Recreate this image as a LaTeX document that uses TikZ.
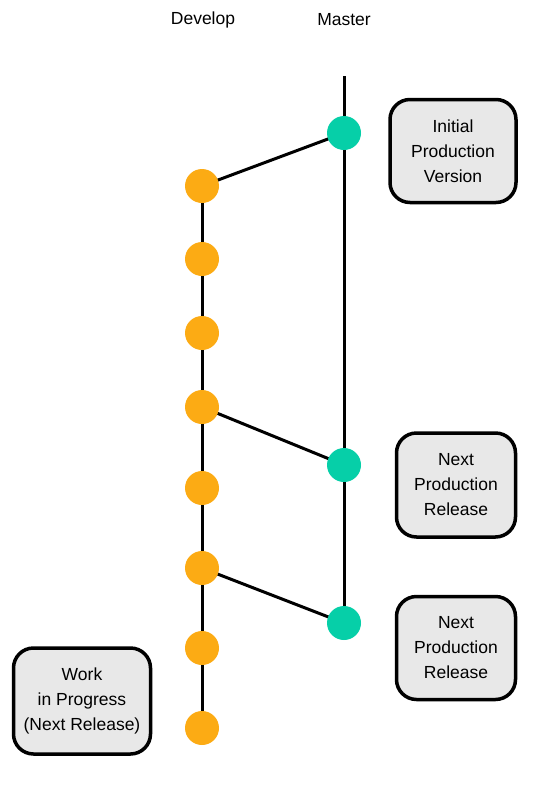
\documentclass[tikz,border=0pt]{standalone}
\usepackage{fontspec}
\setmainfont{Liberation Sans}
\usetikzlibrary{backgrounds, positioning}
\definecolor{devorange}{HTML}{FCAB14}
\definecolor{mastgreen}{HTML}{06CFA8}
\definecolor{notegray}{HTML}{E8E8E8}

\begin{document}
\begin{tikzpicture}[x=1pt, y=-1pt,
  font=\fontsize{17.5}{25}\selectfont,
  commit/.style={circle, minimum size=34pt, inner sep=0pt},
  dev/.style={commit, fill=devorange},
  mas/.style={commit, fill=mastgreen},
  note/.style={draw, line width=3.5pt, fill=notegray, rounded corners=20pt,
               align=center, inner sep=0pt},
  branch/.style={line width=3pt}]
\useasboundingbox (0,0) rectangle (534,804);
%
\node (devlab) at (203,20) {Develop};
\node (maslab) at (344,20) {Master};
%
\coordinate (mtop) at (344,76);
\node[mas] (m1) at (344,133) {};
\node[mas] (m2) at (344,465) {};
\node[mas] (m3) at (344,623) {};
%
\node[dev] (d1) at (202,186) {};
\node[dev] (d2) at (202,259) {};
\node[dev] (d3) at (202,333) {};
\node[dev] (d4) at (202,407) {};
\node[dev] (d5) at (202,488) {};
\node[dev] (d6) at (202,568) {};
\node[dev] (d7) at (202,648) {};
\node[dev] (d8) at (202,728) {};
%
\node[note, minimum width=126pt, minimum height=103pt] (init) at (453,151)
  {Initial\\Production\\Version};
\node[note, minimum width=119pt, minimum height=104pt] (rel1) at (456,485)
  {Next\\Production\\Release};
\node[note, minimum width=119pt, minimum height=103pt] (rel2) at (456,648)
  {Next\\Production\\Release};
\node[note, minimum width=137pt, minimum height=106pt] (wip) at (82,701)
  {Work\\in Progress\\(Next Release)};
%
\begin{scope}[on background layer]
\draw[branch] (mtop) -- (m3.center);
\draw[branch] (d1.center) -- (d8.center);
\draw[branch] (d1.center) -- (m1.center);
\draw[branch] (d4.center) -- (m2.center);
\draw[branch] (d6.center) -- (m3.center);
\end{scope}
\end{tikzpicture}
\end{document}
